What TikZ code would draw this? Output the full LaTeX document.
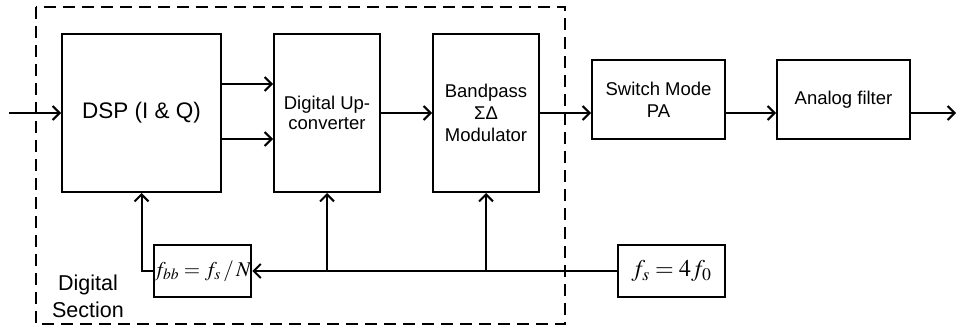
\documentclass[tikz,border=0pt]{standalone}
\usepackage{mathptmx}
\usepackage[no-math]{fontspec}
\setmainfont{Liberation Sans}
\usetikzlibrary{arrows.meta}
\begin{document}
\begin{tikzpicture}[x=1pt,y=-1pt,
  line width=2pt,
  >={Straight Barb[length=7pt,width=14pt,line width=2pt]},
  blk/.style={draw,line width=2pt,inner sep=2pt,align=center,font=\fontsize{18.5}{22}\selectfont},
  mbox/.style={draw,line width=2pt,inner sep=0pt},
  sect/.style={draw,line width=2pt,dash pattern=on 12pt off 7pt}]
\useasboundingbox (0,0) rectangle (957,329);
% dashed digital section
\draw[sect] (36,7) rectangle (565,324);
\node[align=center,font=\fontsize{21.5}{27}\selectfont] (dsec) at (88,296) {Digital\\Section};
% blocks
\node[blk,minimum width=159pt,minimum height=158pt,font=\fontsize{22.5}{26}\selectfont] (dsp) at (141.5,113) {DSP (I \& Q)};
\node[blk,minimum width=106pt,minimum height=158pt] (duc) at (327,113) {Digital Up-\\[-2pt]converter};
\node[blk,minimum width=106pt,minimum height=158pt] (bp) at (486,113) {Bandpass\\ΣΔ\\Modulator};
\node[blk,minimum width=133pt,minimum height=79pt] (pa) at (658.5,99.5) {Switch Mode\\PA};
\node[blk,minimum width=133pt,minimum height=79pt] (af) at (843.5,99.5) {Analog filter};
\node[mbox,minimum width=91pt,minimum height=52pt,font=\fontsize{21}{24}\selectfont] (fbb) at (202.5,271) {$f_{bb}=f_s\,/\,N$};
\node[mbox,minimum width=107pt,minimum height=52pt,font=\fontsize{24}{28}\selectfont] (fs) at (671.5,271) {$f_s=4f_0$};
\coordinate (in) at (9,113);
\coordinate (out) at (956,113);
% connectors
\draw[->] (in) -- (dsp.west);
\draw[->] ([yshift=-26pt]dsp.east) -- ([yshift=-26pt]duc.west);
\draw[->] ([yshift=29pt]dsp.east) -- ([yshift=29pt]duc.west);
\draw[->] (duc.east) -- (bp.west);
\draw[->] (bp.east) -- (bp.east -| pa.west);
\draw[->] (pa.east |- bp.east) -- (af.west |- bp.east);
\draw[->] (af.east |- out) -- (out);
\draw[->] (fs.west) -- (fbb.east);
\draw[->] (duc.south |- fs.west) -- (duc.south);
\draw[->] (bp.south |- fs.west) -- (bp.south);
\draw[->] (fbb.west) -| (dsp.south);
\end{tikzpicture}
\end{document}
